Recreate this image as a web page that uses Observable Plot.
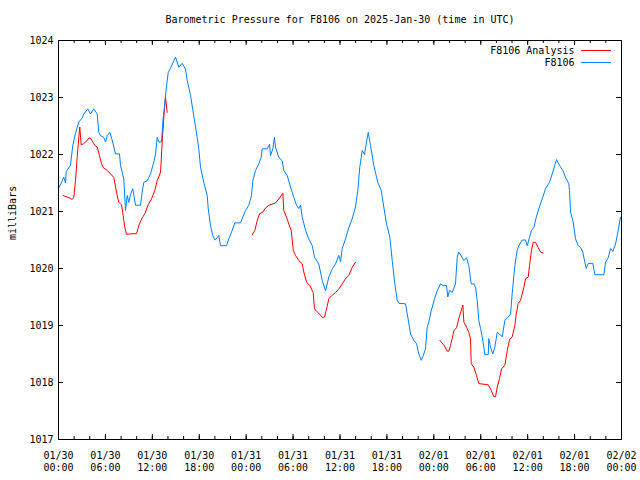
<!DOCTYPE html>
<html>
<head>
<meta charset="utf-8">
<script src="https://cdn.jsdelivr.net/npm/d3@7"></script>
<script src="https://cdn.jsdelivr.net/npm/@observablehq/plot@0.6"></script>
<style>
  html, body { margin: 0; padding: 0; background: #fff; }
</style>
</head>
<body>
<div id="chart"></div>
<script>
// ---- data (hours since 2025-01-30 00:00 UTC, pressure in mb) ----
const titleText = "Barometric Pressure for F8106 on 2025-Jan-30 (time in UTC)";
const yLabelText = "milliBars";
const seriesNames = ["F8106 Analysis", "F8106"];
const seriesColors = ["#ff0000", "#0080ff"];

const xTickHours = [0, 6, 12, 18, 24, 30, 36, 42, 48, 54, 60, 66, 72];
const yTicks = [1017, 1018, 1019, 1020, 1021, 1022, 1023, 1024];

const stationHours = [
  0.0, 0.68, 0.9, 0.98, 1.53, 1.83, 2.17, 2.6, 3.03, 3.24, 3.75, 4.09, 4.51, 4.95, 5.15, 5.37, 5.79, 6.01, 6.23, 6.56,
  6.87, 7.29, 7.8, 7.93, 8.35, 8.57, 8.79, 8.99, 9.21, 9.5, 9.85, 10.49, 10.7, 10.91, 11.34, 11.77, 12.19, 12.41, 12.62, 12.83,
  13.17, 13.34, 13.59, 13.77, 14.03, 14.32, 14.96, 15.39, 15.82, 16.24, 16.46, 16.88, 17.3, 17.74, 17.94, 18.16, 18.58, 19.02, 19.15, 19.44,
  19.73, 19.99, 20.3, 20.5, 20.72, 21.49, 21.78, 22.22, 22.55, 23.28, 23.92, 24.34, 24.68, 24.85, 25.19, 25.62, 25.92, 26.05, 26.69, 26.99,
  27.11, 27.41, 27.62, 27.75, 28.17, 28.61, 28.81, 29.25, 29.67, 30.09, 30.44, 30.73, 30.95, 31.17, 31.59, 32.01, 32.45, 32.74, 33.29, 33.73,
  34.15, 34.57, 35.0, 35.43, 35.85, 36.07, 36.28, 36.71, 37.13, 37.56, 37.98, 38.28, 38.53, 38.84, 39.14, 39.39, 39.61, 39.9, 40.32, 40.83,
  41.27, 41.6, 41.95, 42.37, 42.68, 43.01, 43.32, 43.52, 44.38, 44.67, 45.02, 45.44, 45.79, 46.08, 46.39, 46.64, 46.94, 47.15, 47.36, 47.67,
  48.09, 48.43, 48.86, 49.2, 49.62, 49.79, 50.0, 50.35, 50.77, 50.99, 51.19, 51.5, 51.84, 52.18, 52.47, 52.78, 53.11, 53.33, 53.55, 53.75,
  53.97, 54.19, 54.39, 54.52, 54.96, 55.03, 55.25, 55.54, 55.8, 56.11, 56.4, 56.75, 57.08, 57.51, 57.81, 58.02, 58.36, 58.66, 58.87, 59.3,
  59.73, 59.94, 60.24, 60.49, 60.79, 61.1, 61.43, 61.86, 62.28, 62.79, 63.14, 63.47, 63.69, 64.07, 64.5, 64.84, 65.26, 65.35, 65.48, 65.83,
  66.12, 66.47, 66.76, 67.05, 67.31, 67.49, 67.74, 68.33, 68.59, 69.74, 69.96, 70.3, 70.6, 70.89, 71.24, 71.58, 71.87
];
const stationValues = [
  1021.40, 1021.60, 1021.50, 1021.70, 1021.81, 1022.16, 1022.37, 1022.57, 1022.64, 1022.71, 1022.80, 1022.71, 1022.80, 1022.71, 1022.39, 1022.33, 1022.30, 1022.22, 1022.33, 1022.39,
  1022.25, 1022.01, 1022.01, 1021.81, 1021.57, 1021.02, 1021.28, 1021.16, 1021.30, 1021.40, 1021.11, 1021.11, 1021.34, 1021.51, 1021.54, 1021.66, 1021.87, 1022.01, 1022.30, 1022.22,
  1022.22, 1022.57, 1022.89, 1023.15, 1023.44, 1023.51, 1023.71, 1023.53, 1023.60, 1023.50, 1023.30, 1023.04, 1022.68, 1022.30, 1022.10, 1021.78, 1021.51, 1021.28, 1021.05, 1020.75,
  1020.58, 1020.50, 1020.54, 1020.58, 1020.40, 1020.40, 1020.52, 1020.67, 1020.80, 1020.80, 1021.02, 1021.11, 1021.28, 1021.54, 1021.72, 1021.84, 1021.95, 1022.10, 1022.10, 1022.18,
  1021.98, 1022.10, 1022.30, 1022.13, 1021.95, 1021.89, 1021.72, 1021.63, 1021.43, 1021.25, 1021.11, 1021.05, 1021.11, 1020.90, 1020.67, 1020.52, 1020.40, 1020.20, 1020.08, 1019.79,
  1019.61, 1019.85, 1019.99, 1020.08, 1020.23, 1020.12, 1020.35, 1020.52, 1020.72, 1020.87, 1021.08, 1021.37, 1021.78, 1022.07, 1022.00, 1022.22, 1022.39, 1022.16, 1021.81, 1021.51,
  1021.37, 1021.08, 1020.78, 1020.55, 1020.14, 1019.73, 1019.44, 1019.39, 1019.38, 1019.15, 1018.85, 1018.74, 1018.68, 1018.50, 1018.39, 1018.47, 1018.59, 1018.97, 1019.06, 1019.26,
  1019.47, 1019.61, 1019.73, 1019.70, 1019.70, 1019.50, 1019.62, 1019.58, 1019.73, 1020.20, 1020.29, 1020.22, 1020.14, 1020.19, 1020.05, 1019.73, 1019.73, 1019.67, 1019.44, 1019.09,
  1018.95, 1018.80, 1018.62, 1018.49, 1018.49, 1018.77, 1018.62, 1018.50, 1018.62, 1018.88, 1018.85, 1018.80, 1019.09, 1019.15, 1019.20, 1019.56, 1020.05, 1020.32, 1020.40, 1020.50,
  1020.50, 1020.40, 1020.55, 1020.67, 1020.72, 1020.90, 1021.05, 1021.22, 1021.40, 1021.51, 1021.66, 1021.81, 1021.91, 1021.81, 1021.72, 1021.60, 1021.49, 1021.37, 1020.99, 1020.81,
  1020.52, 1020.40, 1020.37, 1020.29, 1020.11, 1020.00, 1020.09, 1020.09, 1019.89, 1019.89, 1020.11, 1020.19, 1020.35, 1020.30, 1020.43, 1020.67, 1020.90
];

// analysis series: three separate runs, separated by null
const analysisHours = [
  0.6, 1.53, 1.75, 1.96, 2.17, 2.39, 2.6, 2.72, 2.9, 3.24, 3.67, 3.88, 4.09, 4.39, 4.64, 4.95, 5.24, 5.5, 5.72, 6.23,
  6.65, 7.07, 7.29, 7.51, 7.71, 8.06, 8.27, 8.48, 8.7, 9.43, 9.98, 10.27, 10.62, 11.04, 11.47, 11.89, 12.32, 12.62, 13.05, 13.26,
  13.47, 13.68, 13.9,
  null,
  24.77, 25.11, 25.41, 25.71, 26.13, 26.47, 26.9, 27.33, 27.75, 28.17, 28.69, 28.81, 29.16, 29.45, 29.76, 30.02, 30.31, 30.73, 31.17, 31.37,
  31.72, 32.14, 32.57, 32.74, 33.16, 33.51, 33.73, 34.02, 34.28, 34.57, 35.0, 35.43, 35.85, 36.28, 36.71, 37.13, 37.56, 37.98,
  null,
  48.77, 49.37, 49.71, 49.92, 50.13, 50.35, 50.56, 50.9, 51.19, 51.5, 51.71, 51.84, 52.18, 52.47, 52.69, 52.78, 53.11, 53.46, 53.75, 54.96,
  55.25, 55.67, 55.89, 56.11, 56.4, 56.66, 57.08, 57.39, 57.68, 58.02, 58.36, 58.54, 58.79, 59.09, 59.51, 59.73, 60.07, 60.24, 60.49, 60.71,
  61.0, 61.34, 61.64, 61.99
];
const analysisValues = [
  1021.28, 1021.23, 1021.21, 1021.25, 1021.54, 1021.95, 1022.30, 1022.48, 1022.17, 1022.19, 1022.25, 1022.29, 1022.29, 1022.22, 1022.16, 1022.13, 1021.98, 1021.84, 1021.77, 1021.72,
  1021.66, 1021.60, 1021.43, 1021.28, 1021.16, 1021.12, 1020.93, 1020.72, 1020.60, 1020.61, 1020.61, 1020.75, 1020.87, 1020.96, 1021.12, 1021.22, 1021.37, 1021.54, 1021.69, 1022.22,
  1022.65, 1023.01, 1022.74,
  null,
  1020.59, 1020.67, 1020.84, 1020.96, 1020.99, 1021.06, 1021.11, 1021.13, 1021.15, 1021.22, 1021.32, 1021.02, 1020.90, 1020.78, 1020.67, 1020.32, 1020.23, 1020.14, 1020.08, 1019.94,
  1019.76, 1019.70, 1019.58, 1019.29, 1019.23, 1019.18, 1019.14, 1019.15, 1019.29, 1019.47, 1019.53, 1019.58, 1019.64, 1019.73, 1019.82, 1019.88, 1020.02, 1020.11,
  null,
  1018.74, 1018.64, 1018.55, 1018.55, 1018.65, 1018.77, 1018.91, 1018.96, 1019.12, 1019.26, 1019.36, 1019.06, 1018.97, 1018.88, 1018.77, 1018.33, 1018.27, 1018.12, 1017.98, 1017.96,
  1017.89, 1017.75, 1017.75, 1017.92, 1018.07, 1018.24, 1018.30, 1018.56, 1018.75, 1018.80, 1019.00, 1019.20, 1019.39, 1019.44, 1019.67, 1019.82, 1019.85, 1020.05, 1020.32, 1020.46,
  1020.46, 1020.37, 1020.29, 1020.27
];

// ---- build ----
const t0 = Date.UTC(2025, 0, 30);
const toDate = h => (h == null ? null : new Date(t0 + h * 3600e3));

const station = stationHours.map((h, i) => ({t: toDate(h), v: stationValues[i]}));
const analysis = analysisHours.map((h, i) => ({t: toDate(h), v: analysisValues[i]}));

const majorTicks = xTickHours.map(toDate);
const minorTicks = d3.range(0, 73, 2).map(toDate);

const W = 640, H = 480;
const mL = 58, mR = 19, mT = 40, mB = 41;
const innerW = W - mL - mR, innerH = H - mT - mB;
const fmtDay = d3.utcFormat("%m/%d"), fmtTime = d3.utcFormat("%H:%M");

const chart = Plot.plot({
  width: W,
  height: H,
  marginLeft: mL,
  marginRight: mR,
  marginTop: mT,
  marginBottom: mB,
  style: {fontFamily: "'DejaVu Sans Mono', monospace", fontSize: "10px", background: "#fff", color: "#000"},
  x: {type: "utc", domain: [toDate(0), toDate(72)]},
  y: {domain: [1017, 1024]},
  marks: [
    // tick labels
    Plot.axisX({ticks: majorTicks, tickSize: 0, tickPadding: 11, label: null,
      tickFormat: d => fmtDay(d) + "\n" + fmtTime(d), lineHeight: 1.2}),
    Plot.axisY({ticks: yTicks, tickSize: 0, tickPadding: 5, label: null, tickFormat: d => String(d)}),
    // inward tick marks (bottom/top)
    Plot.ruleX(majorTicks, {x: d => d, insetTop: innerH - 5, stroke: "#000", strokeWidth: 1}),
    Plot.ruleX(majorTicks, {x: d => d, insetBottom: innerH - 5, stroke: "#000", strokeWidth: 1}),
    Plot.ruleX(minorTicks, {x: d => d, insetTop: innerH - 3, stroke: "#000", strokeWidth: 1}),
    Plot.ruleX(minorTicks, {x: d => d, insetBottom: innerH - 3, stroke: "#000", strokeWidth: 1}),
    // inward tick marks (left/right)
    Plot.ruleY(yTicks, {y: d => d, insetRight: innerW - 5, stroke: "#000", strokeWidth: 1}),
    Plot.ruleY(yTicks, {y: d => d, insetLeft: innerW - 5, stroke: "#000", strokeWidth: 1}),
    // series
    Plot.line(analysis, {x: "t", y: "v", stroke: seriesColors[0], strokeWidth: 1}),
    Plot.line(station, {x: "t", y: "v", stroke: seriesColors[1], strokeWidth: 1}),
    Plot.frame({stroke: "#000", strokeWidth: 1}),
    // title and y label
    Plot.text([titleText], {frameAnchor: "top", dy: -21, lineAnchor: "middle", fill: "#000"}),
    Plot.text([yLabelText], {frameAnchor: "left", dx: -46, rotate: -90, lineAnchor: "middle", fill: "#000"}),
    // legend
    Plot.text([seriesNames[0]], {frameAnchor: "top-right", dx: -47, dy: 10, textAnchor: "end", lineAnchor: "middle", fill: "#000"}),
    Plot.text([seriesNames[1]], {frameAnchor: "top-right", dx: -47, dy: 22, textAnchor: "end", lineAnchor: "middle", fill: "#000"}),
    Plot.vector([0], {frameAnchor: "top-right", dx: -40, dy: 10, length: 29, rotate: 90, anchor: "start", r: 0, stroke: seriesColors[0], strokeWidth: 1}),
    Plot.vector([0], {frameAnchor: "top-right", dx: -40, dy: 22, length: 29, rotate: 90, anchor: "start", r: 0, stroke: seriesColors[1], strokeWidth: 1})
  ]
});
document.getElementById("chart").appendChild(chart);
</script>
</body>
</html>
